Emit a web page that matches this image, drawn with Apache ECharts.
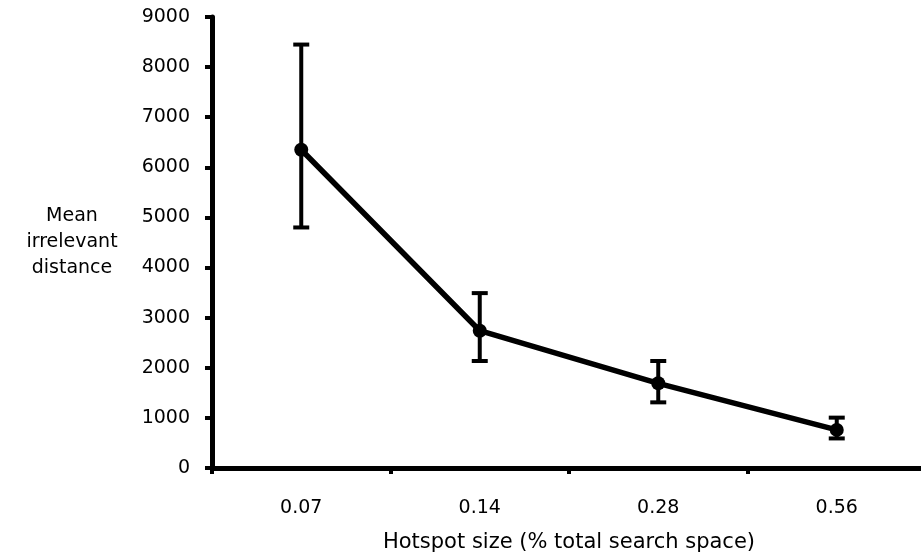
<!DOCTYPE html>
<html>
<head>
<meta charset="utf-8">
<script src="https://cdn.jsdelivr.net/npm/echarts@6/dist/echarts.min.js"></script>
<style>
  html, body { margin: 0; padding: 0; background: #fff; }
  #main { width: 921px; height: 558px; }
</style>
</head>
<body>
<div id="main"></div>
<script>
// data
var categories = ['0.07', '0.14', '0.28', '0.56'];
var means = [6350, 2740, 1690, 760];
var errLow = [4800, 2135, 1310, 590];
var errHigh = [8450, 3490, 2135, 1005];
var yTicks = { min: 0, max: 9000, interval: 1000 };

var chart = echarts.init(document.getElementById('main'));

var errData = categories.map(function (c, i) {
    return [i, errLow[i], errHigh[i]];
});

var option = {
    animation: false,
    textStyle: { fontFamily: 'DejaVu Sans' },
    grid: { left: 212, top: 17, right: -5, bottom: 90, outerBoundsMode: 'none', containLabel: false },
    graphic: [{
        type: 'text',
        x: 72,
        y: 203,
        style: {
            text: 'Mean\nirrelevant\ndistance',
            align: 'center',
            fill: '#000',
            font: '19px "DejaVu Sans"',
            lineHeight: 26
        }
    }],
    xAxis: {
        type: 'category',
        data: categories,
        boundaryGap: true,
        name: 'Hotspot size (% total search space)',
        nameLocation: 'middle',
        nameGap: 64,
        nameTextStyle: { color: '#000', fontSize: 21, fontFamily: 'DejaVu Sans' },
        axisLine: { lineStyle: { color: '#000', width: 5 } },
        axisTick: { show: true, length: 6, lineStyle: { color: '#000', width: 4 } },
        axisLabel: { color: '#000', fontSize: 19, fontFamily: 'DejaVu Sans', margin: 31 },
        splitLine: { show: false }
    },
    yAxis: {
        type: 'value',
        min: yTicks.min,
        max: yTicks.max,
        interval: yTicks.interval,
        axisLine: { show: true, lineStyle: { color: '#000', width: 5 } },
        axisTick: { show: true, length: 7, lineStyle: { color: '#000', width: 4 } },
        axisLabel: {
            color: '#000', fontSize: 19, fontFamily: 'DejaVu Sans', margin: 22,
            formatter: function (v) { return String(v); }
        },
        splitLine: { show: false }
    },
    series: [
        {
            type: 'custom',
            data: errData,
            z: 3,
            renderItem: function (params, api) {
                var x = api.value(0);
                var lo = api.coord([x, api.value(1)]);
                var hi = api.coord([x, api.value(2)]);
                var half = 8;
                var st = { stroke: '#000', lineWidth: 4 };
                return {
                    type: 'group',
                    children: [
                        { type: 'line', shape: { x1: lo[0], y1: lo[1], x2: hi[0], y2: hi[1] }, style: st },
                        { type: 'line', shape: { x1: hi[0] - half, y1: hi[1], x2: hi[0] + half, y2: hi[1] }, style: st },
                        { type: 'line', shape: { x1: lo[0] - half, y1: lo[1], x2: lo[0] + half, y2: lo[1] }, style: st }
                    ]
                };
            }
        },
        {
            type: 'line',
            data: means,
            z: 4,
            symbol: 'circle',
            symbolSize: 14,
            lineStyle: { color: '#000', width: 5.5 },
            itemStyle: { color: '#000' }
        }
    ]
};

chart.setOption(option);
</script>
</body>
</html>
